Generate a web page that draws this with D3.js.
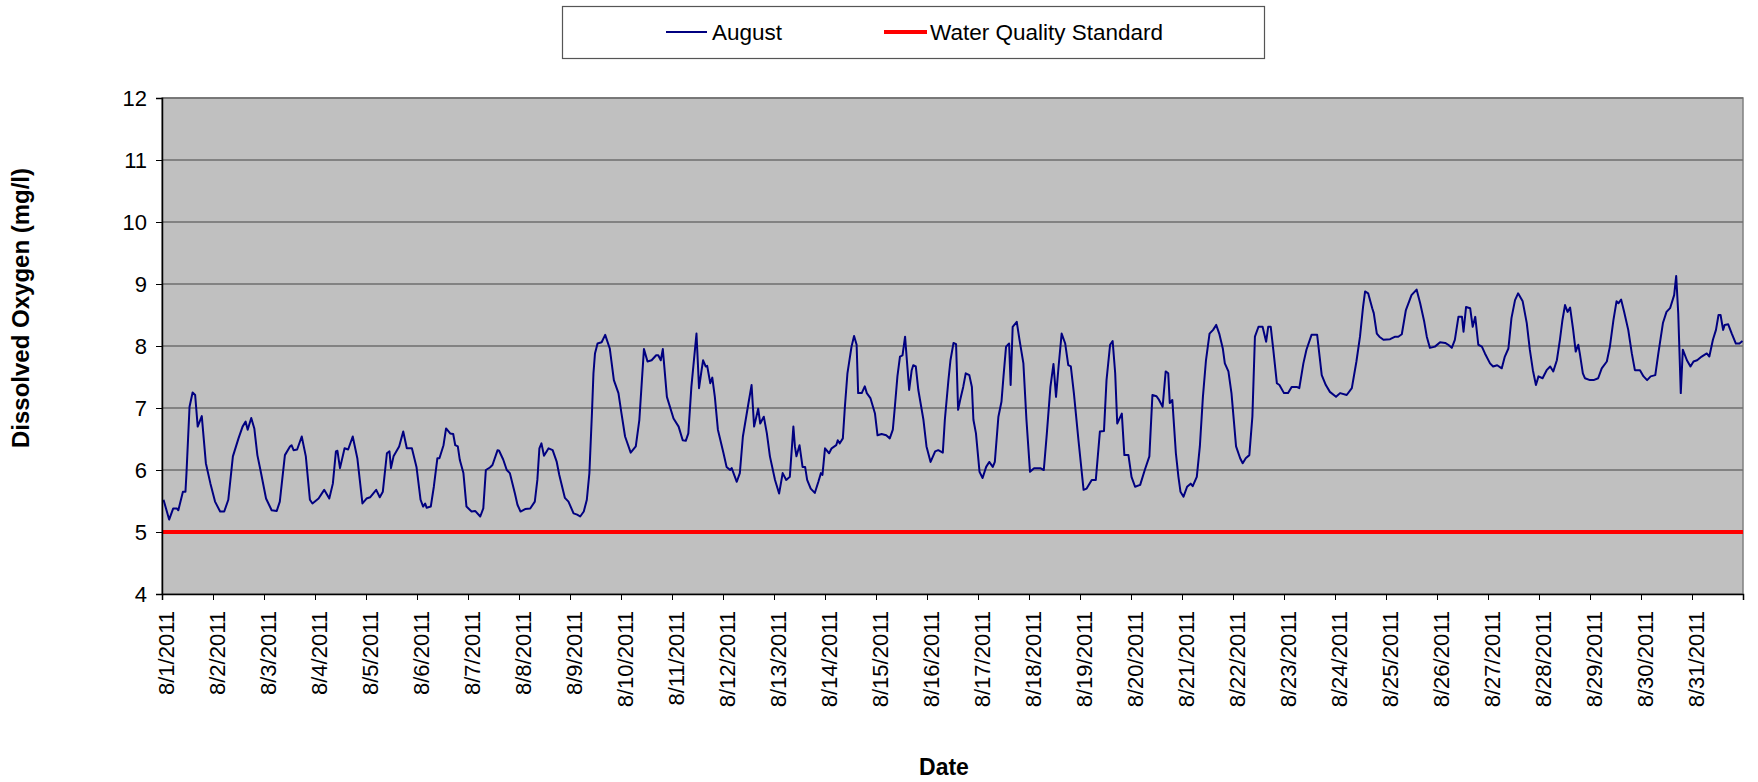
<!DOCTYPE html>
<html>
<head>
<meta charset="utf-8">
<script src="https://cdn.jsdelivr.net/npm/d3@7"></script>
<style>
  body { margin: 0; background: #fff; }
  svg text { font-family: "Liberation Sans", Arial, sans-serif; fill: #000; }
</style>
</head>
<body>
<div id="chart"></div>
<script>
// Dissolved oxygen readings, August 2011.
// dayOffset = days after 8/1/2011 00:00
var dayOffset = [
  0.03,0.14,0.22,0.29,0.32,0.41,0.46,0.48,0.54,0.60,0.65,0.70,0.78,0.86,0.95,
  1.04,1.14,1.22,1.30,1.39,1.50,1.58,1.64,1.68,1.75,1.81,1.87,1.93,
  2.04,2.15,2.25,2.31,2.41,2.51,2.54,2.58,2.65,2.74,2.82,2.90,2.95,
  3.07,3.18,3.28,3.35,3.41,3.44,3.49,3.58,3.65,3.74,3.83,3.93,
  4.01,4.08,4.20,4.27,4.33,4.41,4.46,4.49,4.54,4.65,4.73,4.80,4.90,4.99,
  5.07,5.12,5.16,5.19,5.27,5.33,5.40,5.44,5.52,5.57,5.65,5.71,5.75,5.80,5.84,5.91,5.97,
  6.07,6.14,6.24,6.30,6.35,6.43,6.48,6.58,6.61,6.69,6.76,6.82,6.92,6.97,
  7.03,7.12,7.22,7.31,7.36,7.40,7.44,7.49,7.58,7.66,7.74,7.79,7.90,7.97,
  8.07,8.14,8.20,8.27,8.33,8.38,8.43,8.46,8.49,8.54,8.62,8.69,8.78,8.86,8.95,
  9.01,9.08,9.19,9.29,9.36,9.41,9.45,9.52,9.60,9.69,9.73,9.78,9.82,9.90,
  10.03,10.13,10.21,10.27,10.32,10.38,10.48,10.53,10.58,10.61,10.66,10.69,10.75,10.79,10.84,10.90,
  11.01,11.07,11.14,11.17,11.27,11.33,11.39,11.50,11.56,11.61,11.69,11.73,11.80,11.86,11.92,
  12.02,12.10,12.17,12.24,12.31,12.38,12.41,12.44,12.50,12.56,12.61,12.65,12.72,12.80,12.87,12.92,12.95,
  13.00,13.08,13.13,13.22,13.25,13.29,13.35,13.39,13.44,13.52,13.57,13.62,13.65,13.72,13.78,13.82,13.89,13.98,
  14.03,14.11,14.20,14.27,14.33,14.37,14.42,14.47,14.52,14.57,14.65,14.70,14.73,14.78,14.83,14.93,14.99,
  15.07,15.16,15.22,15.31,15.35,15.42,15.46,15.52,15.57,15.61,15.65,15.71,15.76,15.83,15.88,15.91,15.96,
  16.03,16.09,16.16,16.22,16.29,16.33,16.40,16.46,16.50,16.55,16.61,16.64,16.68,16.76,16.81,16.89,16.95,
  17.02,17.10,17.22,17.29,17.35,17.42,17.48,17.53,17.58,17.64,17.71,17.77,17.82,17.88,17.97,
  18.07,18.13,18.23,18.31,18.39,18.47,18.52,18.59,18.64,18.69,18.73,18.82,18.87,18.95,
  19.01,19.08,19.18,19.27,19.36,19.42,19.50,19.55,19.62,19.68,19.73,19.76,19.81,19.88,19.93,19.97,
  20.03,20.10,20.17,20.21,20.29,20.35,20.41,20.47,20.54,20.61,20.67,20.73,20.80,20.84,20.91,20.97,
  21.06,21.14,21.19,21.25,21.32,21.38,21.43,21.50,21.58,21.65,21.69,21.74,21.79,21.86,21.91,
  22.00,22.08,22.15,22.25,22.30,22.38,22.44,22.54,22.65,22.74,22.82,22.90,
  23.02,23.10,23.23,23.33,23.42,23.49,23.55,23.59,23.65,23.73,23.76,23.82,23.87,23.95,
  24.08,24.18,24.24,24.31,24.39,24.50,24.60,24.67,24.75,24.80,24.86,24.96,
  25.06,25.16,25.22,25.29,25.35,25.42,25.49,25.52,25.57,25.65,25.70,25.75,25.81,25.88,25.94,
  26.04,26.10,26.18,26.27,26.33,26.40,26.46,26.53,26.59,26.68,26.76,26.82,26.88,26.94,26.99,
  27.07,27.15,27.22,27.28,27.35,27.41,27.46,27.51,27.56,27.61,27.67,27.72,27.77,27.80,27.86,27.90,
  28.00,28.07,28.16,28.23,28.33,28.39,28.46,28.52,28.56,28.61,28.67,28.75,28.82,28.88,28.98,
  29.05,29.12,29.19,29.28,29.34,29.43,29.50,29.57,29.65,29.69,29.73,29.78,29.82,29.90,29.97,
  30.03,30.10,30.19,30.29,30.34,30.41,30.47,30.52,30.56,30.61,30.64,30.71,30.78,30.86,30.93,30.99
];
var dissolvedOxygen = [
  5.52,5.20,5.38,5.38,5.35,5.65,5.65,5.95,7.02,7.25,7.21,6.70,6.87,6.11,5.78,
  5.49,5.33,5.33,5.52,6.22,6.51,6.70,6.78,6.65,6.84,6.67,6.24,6.00,
  5.54,5.35,5.34,5.49,6.24,6.38,6.40,6.32,6.33,6.54,6.22,5.52,5.46,
  5.54,5.68,5.54,5.78,6.30,6.31,6.03,6.35,6.33,6.54,6.19,5.46,
  5.54,5.56,5.68,5.56,5.65,6.27,6.30,6.03,6.22,6.38,6.62,6.35,6.35,6.05,
  5.52,5.41,5.46,5.39,5.41,5.73,6.19,6.19,6.40,6.67,6.59,6.58,6.40,6.38,6.16,5.95,5.41,
  5.33,5.34,5.25,5.38,6.00,6.04,6.08,6.32,6.31,6.17,6.00,5.95,5.62,5.44,
  5.33,5.37,5.38,5.49,5.84,6.35,6.43,6.23,6.35,6.32,6.13,5.92,5.55,5.49,
  5.30,5.28,5.25,5.33,5.52,5.95,6.91,7.56,7.88,8.04,8.06,8.18,7.96,7.45,7.24,
  6.91,6.54,6.28,6.38,6.81,7.45,7.95,7.75,7.77,7.85,7.85,7.77,7.95,7.18,
  6.83,6.70,6.48,6.47,6.59,7.34,8.20,7.32,7.61,7.77,7.67,7.68,7.40,7.49,7.18,6.65,
  6.27,6.05,6.00,6.03,5.81,5.95,6.54,7.08,7.37,6.70,6.99,6.75,6.86,6.59,6.22,
  5.84,5.62,5.95,5.84,5.89,6.70,6.38,6.22,6.40,6.05,6.05,5.84,5.70,5.63,5.81,5.95,5.92,
  6.35,6.27,6.35,6.40,6.48,6.43,6.51,7.02,7.56,7.99,8.16,8.02,7.24,7.24,7.35,7.24,7.16,6.91,
  6.56,6.58,6.56,6.51,6.65,7.02,7.51,7.83,7.85,8.15,7.29,7.61,7.69,7.67,7.29,6.81,6.38,
  6.13,6.30,6.32,6.28,6.81,7.45,7.77,8.05,8.03,6.97,7.13,7.34,7.56,7.53,7.34,6.81,6.59,
  5.97,5.87,6.05,6.13,6.05,6.13,6.86,7.10,7.51,7.99,8.04,7.37,8.31,8.39,8.12,7.72,6.81,
  5.97,6.03,6.03,6.00,6.59,7.34,7.71,7.18,7.67,8.20,8.04,7.69,7.67,7.24,6.48,
  5.68,5.70,5.84,5.84,6.62,6.63,7.45,8.02,8.08,7.56,6.75,6.91,6.24,6.24,
  5.89,5.73,5.76,6.00,6.22,7.21,7.19,7.13,7.02,7.59,7.56,7.08,7.13,6.27,5.89,5.65,
  5.57,5.73,5.78,5.74,5.89,6.38,7.18,7.77,8.20,8.26,8.34,8.20,7.96,7.72,7.59,7.24,
  6.38,6.19,6.11,6.19,6.24,6.86,8.15,8.31,8.31,8.07,8.31,8.31,7.94,7.40,7.37,
  7.24,7.24,7.34,7.34,7.32,7.72,7.94,8.18,8.18,7.53,7.37,7.26,
  7.18,7.24,7.21,7.32,7.75,8.15,8.63,8.88,8.85,8.61,8.53,8.20,8.15,8.10,
  8.11,8.15,8.15,8.19,8.58,8.82,8.91,8.69,8.39,8.15,7.97,7.99,
  8.06,8.05,8.02,7.97,8.10,8.47,8.47,8.23,8.63,8.61,8.31,8.47,8.02,7.99,7.88,
  7.72,7.67,7.69,7.64,7.83,7.96,8.45,8.74,8.85,8.72,8.37,7.94,7.61,7.37,7.51,
  7.48,7.61,7.67,7.59,7.77,8.10,8.42,8.66,8.55,8.62,8.26,7.91,8.02,7.88,7.56,7.48,
  7.45,7.45,7.48,7.64,7.75,7.99,8.42,8.72,8.69,8.75,8.55,8.26,7.88,7.61,7.61,
  7.51,7.45,7.51,7.53,7.88,8.37,8.55,8.61,8.82,9.13,8.53,7.24,7.94,7.77,7.67,
  7.75,7.77,7.83,7.88,7.83,8.10,8.26,8.50,8.50,8.26,8.34,8.35,8.20,8.04,8.04,8.08
];
var standardValue = 5;
var yTicks = [4, 5, 6, 7, 8, 9, 10, 11, 12];
var seriesNames = ["August", "Water Quality Standard"];

var width = 1758;
var height = 782;
var plotLeft = 162, plotRight = 1743, plotTop = 98, plotBottom = 594;

var startDate = new Date(2011, 7, 1);
var endDate = new Date(2011, 8, 1);

var points = dayOffset.map(function(d, i) {
  return { date: new Date(startDate.getTime() + d * 864e5), value: dissolvedOxygen[i] };
});

var svg = d3.select("#chart").append("svg")
  .attr("width", width)
  .attr("height", height);

var x = d3.scaleTime().domain([startDate, endDate]).range([plotLeft, plotRight]);
var y = d3.scaleLinear().domain([4, 12]).range([plotBottom, plotTop]);

// plot area background
svg.append("rect")
  .attr("x", plotLeft).attr("y", plotTop)
  .attr("width", plotRight - plotLeft).attr("height", plotBottom - plotTop)
  .attr("fill", "#c0c0c0")
  .attr("stroke", "#808080")
  .attr("stroke-width", 1.5);

// horizontal gridlines
svg.append("g")
  .selectAll("line")
  .data(yTicks.slice(1))
  .enter().append("line")
  .attr("x1", plotLeft).attr("x2", plotRight)
  .attr("y1", function(d) { return y(d); })
  .attr("y2", function(d) { return y(d); })
  .attr("stroke", "#6e6e6e")
  .attr("stroke-width", 1.5);

// water quality standard
svg.append("line")
  .attr("x1", plotLeft).attr("x2", plotRight)
  .attr("y1", y(standardValue)).attr("y2", y(standardValue))
  .attr("stroke", "#ff0000")
  .attr("stroke-width", 4);

// DO line
var line = d3.line()
  .x(function(d) { return x(d.date); })
  .y(function(d) { return y(d.value); });

svg.append("path")
  .datum(points)
  .attr("d", line)
  .attr("fill", "none")
  .attr("stroke", "#000080")
  .attr("stroke-width", 2)
  .attr("stroke-linejoin", "round");

// y axis
var yAxis = d3.axisLeft(y).tickValues(yTicks).tickSize(6).tickPadding(9);
var yAxisG = svg.append("g")
  .attr("transform", "translate(" + plotLeft + ",0)")
  .call(yAxis);
yAxisG.select(".domain").attr("stroke", "#000").attr("stroke-width", 1.5);
yAxisG.selectAll(".tick line").attr("stroke", "#000");
yAxisG.selectAll("text")
  .attr("font-size", "22px")
  .attr("font-family", "Liberation Sans, Arial, sans-serif");

// x axis, one tick per day
var dayTicks = d3.timeDay.range(startDate, d3.timeDay.offset(endDate, 1));
var xAxis = d3.axisBottom(x)
  .tickValues(dayTicks)
  .tickSize(6)
  .tickFormat(function(d) {
    if (d.getMonth() !== 7) return "";
    return (d.getMonth() + 1) + "/" + d.getDate() + "/" + d.getFullYear();
  });
var xAxisG = svg.append("g")
  .attr("transform", "translate(0," + plotBottom + ")")
  .call(xAxis);
xAxisG.select(".domain").attr("stroke", "#000").attr("stroke-width", 1.5);
xAxisG.selectAll(".tick line").attr("stroke", "#000");
xAxisG.selectAll("text")
  .attr("font-size", "22px")
  .attr("font-family", "Liberation Sans, Arial, sans-serif")
  .attr("text-anchor", "end")
  .attr("dy", null)
  .attr("y", 0)
  .attr("transform", "translate(11,17) rotate(-90)");

// axis titles
svg.append("text")
  .attr("x", 944).attr("y", 775)
  .attr("text-anchor", "middle")
  .attr("font-size", "23px")
  .attr("font-weight", "bold")
  .text("Date");

svg.append("text")
  .attr("transform", "translate(29,308) rotate(-90)")
  .attr("text-anchor", "middle")
  .attr("font-size", "24px")
  .attr("font-weight", "bold")
  .text("Dissolved Oxygen (mg/l)");

// legend
var legend = svg.append("g").attr("id", "legend");
legend.append("rect")
  .attr("x", 562.5).attr("y", 6.5)
  .attr("width", 702).attr("height", 52)
  .attr("fill", "#fff")
  .attr("stroke", "#555")
  .attr("stroke-width", 1.2);
legend.append("line")
  .attr("x1", 666).attr("x2", 707).attr("y1", 32).attr("y2", 32)
  .attr("stroke", "#000080").attr("stroke-width", 2);
legend.append("text")
  .attr("x", 712).attr("y", 39.5)
  .attr("font-size", "22.5px")
  .text(seriesNames[0]);
legend.append("line")
  .attr("x1", 884).attr("x2", 927).attr("y1", 32).attr("y2", 32)
  .attr("stroke", "#ff0000").attr("stroke-width", 4);
legend.append("text")
  .attr("x", 930).attr("y", 39.5)
  .attr("font-size", "22.5px")
  .text(seriesNames[1]);
</script>
</body>
</html>
